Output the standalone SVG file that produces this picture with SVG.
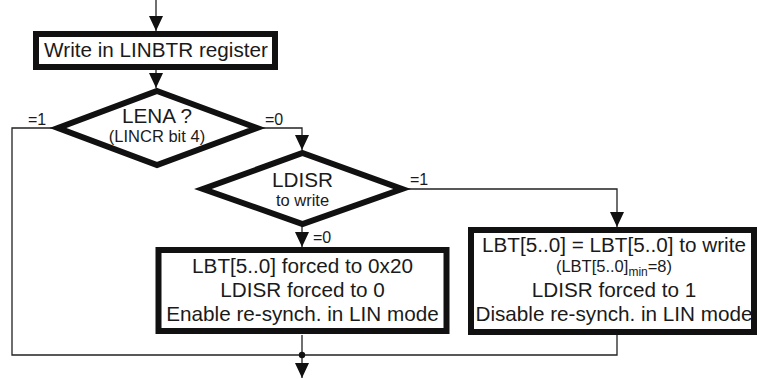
<svg xmlns="http://www.w3.org/2000/svg" width="757" height="379" viewBox="0 0 757 379">
<style>
.box{fill:#fff;stroke:#111;stroke-width:6}
.dia{fill:#fff;stroke:#111;stroke-width:6;stroke-linejoin:miter}
.con{fill:none;stroke:#222;stroke-width:1.3}
text{font-family:"Liberation Sans",Arial,sans-serif;fill:#1a1a1a;text-anchor:middle}
.big{font-size:20.7px}
.mid{font-size:16.5px}
.sm{font-size:16.5px}
.lbl{font-size:16px;text-anchor:start}
</style>
<defs>
<marker id="arr" markerUnits="userSpaceOnUse" markerWidth="15" markerHeight="15" viewBox="0 0 15 15" refX="15" refY="7.5" orient="auto">
<path d="M0,0.5 L15,7.5 L0,14.5 Z" fill="#111"/>
</marker>
</defs>
<g id="connectors">
<path class="con" d="M156 0 V31" marker-end="url(#arr)"/>
<path class="con" d="M156 70 V88" marker-end="url(#arr)"/>
<path class="con" d="M57 128 H12 V355 H617 V335"/>
<path class="con" d="M258 128 H302 V150" marker-end="url(#arr)"/>
<path class="con" d="M403 189 H617 V227" marker-end="url(#arr)"/>
<path class="con" d="M302 226 V247" marker-end="url(#arr)"/>
<path class="con" d="M302 335 V378" marker-end="url(#arr)"/>
<circle cx="302" cy="355" r="3.2" fill="#111"/>
<text class="lbl" x="28" y="125">=1</text>
<text class="lbl" x="265" y="125">=0</text>
<text class="lbl" x="410" y="185">=1</text>
<text class="lbl" x="313" y="243">=0</text>
</g>
<g id="write">
<rect class="box" x="36" y="34" width="239" height="33"/>
<text class="big" x="156" y="57">Write in LINBTR register</text>
</g>
<g id="lena">
<polygon class="dia" points="157,91 257,128 157,165 58,128"/>
<text class="big" x="157" y="123">LENA ?</text>
<text class="mid" x="157" y="142">(LINCR bit 4)</text>
</g>
<g id="ldisr">
<polygon class="dia" points="302.5,153 402,189 302.5,224 203,189"/>
<text class="big" x="302.5" y="187">LDISR</text>
<text class="mid" x="302.5" y="206">to write</text>
</g>
<g id="force0">
<rect class="box" x="158.5" y="250" width="288" height="81"/>
<text class="big" x="302.5" y="273">LBT[5..0] forced to 0x20</text>
<text class="big" x="302.5" y="297">LDISR forced to 0</text>
<text class="big" x="302.5" y="321">Enable re-synch. in LIN mode</text>
</g>
<g id="force1">
<rect class="box" x="471" y="230" width="283" height="102"/>
<text class="big" x="614" y="252">LBT[5..0] = LBT[5..0] to write</text>
<text class="sm" x="614" y="272">(LBT[5..0]<tspan font-size="12" dy="4">min</tspan><tspan dy="-4">=8)</tspan></text>
<text class="big" x="614" y="297">LDISR forced to 1</text>
<text class="big" x="614" y="321">Disable re-synch. in LIN mode</text>
</g>
</svg>
